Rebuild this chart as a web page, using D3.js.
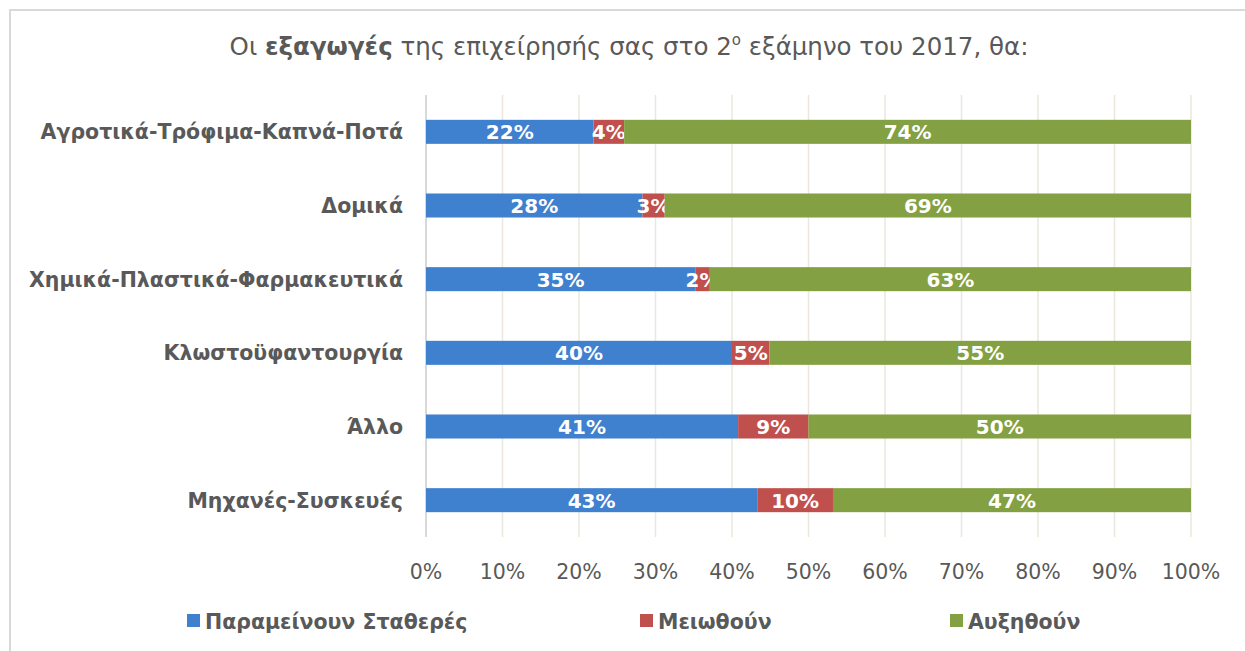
<!DOCTYPE html>
<html lang="el">
<head>
<meta charset="UTF-8">
<title>Εξαγωγές 2017</title>
<script src="https://d3js.org/d3.v7.min.js"></script>
<style>
  body { margin: 0; background: #fff; }
  svg text { font-family: "DejaVu Sans", sans-serif; }
</style>
</head>
<body>
<svg id="chart" width="1245" height="651"></svg>
<script>
// data (shares in %)
var categories = ["Αγροτικά-Τρόφιμα-Καπνά-Ποτά", "Δομικά", "Χημικά-Πλαστικά-Φαρμακευτικά",
                  "Κλωστοϋφαντουργία", "Άλλο", "Μηχανές-Συσκευές"];
var series = ["Παραμείνουν Σταθερές", "Μειωθούν", "Αυξηθούν"];
var stable   = [21.9, 28.3, 35.2, 40.0, 40.8, 43.3];
var decrease = [4.0, 2.9, 1.9, 4.9, 9.2, 9.9];
var increase = [74.1, 68.8, 62.9, 55.1, 50.0, 46.8];
var ticks = [0, 10, 20, 30, 40, 50, 60, 70, 80, 90, 100];
var colors = ["#3f80cf", "#c0504d", "#83a042"];

var svg = d3.select("#chart");
var ink = "#595959";

// outer frame (only left/top visible)
svg.append("path")
   .attr("d", "M10,651 V10 H1245")
   .attr("fill", "none").attr("stroke", "#d9d9d9").attr("stroke-width", 2);

// title
var title = svg.append("text")
   .attr("x", 629).attr("y", 55)
   .attr("text-anchor", "middle")
   .attr("fill", ink).attr("font-size", 24.5);
title.append("tspan").text("Οι ");
title.append("tspan").attr("font-weight", "bold").text("εξαγωγές");
title.append("tspan").text(" της επιχείρησής σας στο 2");
title.append("tspan").attr("font-size", 15).attr("dy", -10).text("ο");
title.append("tspan").attr("dy", 10).text(" εξάμηνο του 2017, θα:");

var x = d3.scaleLinear().domain([0, 100]).range([426, 1191]);
var y = d3.scaleBand().domain(categories).range([95, 537]).paddingInner(0.674).paddingOuter(0.337);

// gridlines
svg.append("g").selectAll("line").data(ticks.slice(1)).join("line")
   .attr("x1", d => x(d)).attr("x2", d => x(d))
   .attr("y1", 95).attr("y2", 537)
   .attr("stroke", "#ebe7dd").attr("stroke-width", 1.5);
svg.append("line")
   .attr("x1", x(0)).attr("x2", x(0)).attr("y1", 95).attr("y2", 537)
   .attr("stroke", "#d9d9d9").attr("stroke-width", 2);

// x tick labels
svg.append("g").selectAll("text").data(ticks).join("text")
   .attr("x", d => x(d)).attr("y", 579)
   .attr("text-anchor", "middle")
   .attr("fill", ink).attr("font-size", 20.5)
   .text(d => d + "%");

// category labels
svg.append("g").selectAll("text").data(categories).join("text")
   .attr("x", 403).attr("y", d => y(d) + y.bandwidth() / 2 + 7.5)
   .attr("text-anchor", "end")
   .attr("fill", ink).attr("font-size", 20.5).attr("font-weight", "bold")
   .text(d => d);

// stacked bars
var rows = categories.map(function(c, i) {
  return { cat: c, s0: stable[i], s1: decrease[i], s2: increase[i] };
});
var stack = d3.stack().keys(["s0", "s1", "s2"])(rows);

var layers = svg.append("g").selectAll("g").data(stack).join("g")
   .attr("fill", (d, i) => colors[i]);

layers.selectAll("rect").data(d => d).join("rect")
   .attr("x", d => x(d[0]))
   .attr("width", d => x(d[1]) - x(d[0]))
   .attr("y", d => y(d.data.cat))
   .attr("height", y.bandwidth());

layers.selectAll("text").data(d => d).join("text")
   .attr("x", d => (x(d[0]) + x(d[1])) / 2)
   .attr("y", d => y(d.data.cat) + y.bandwidth() / 2 + 7.5)
   .attr("text-anchor", "middle")
   .attr("fill", "#fff").attr("font-size", 20).attr("font-weight", "bold")
   .text(d => Math.round(d[1] - d[0]) + "%");

// legend
var legendX = [187, 640, 950];
var legend = svg.append("g").selectAll("g").data(series).join("g")
   .attr("transform", (d, i) => "translate(" + legendX[i] + ",621)");
legend.append("rect")
   .attr("x", 0).attr("y", -7).attr("width", 13).attr("height", 13)
   .attr("fill", (d, i) => colors[i]);
legend.append("text")
   .attr("x", 18).attr("y", 7.5)
   .attr("fill", ink).attr("font-size", 20.5).attr("font-weight", "bold")
   .text(d => d);
</script>
</body>
</html>
